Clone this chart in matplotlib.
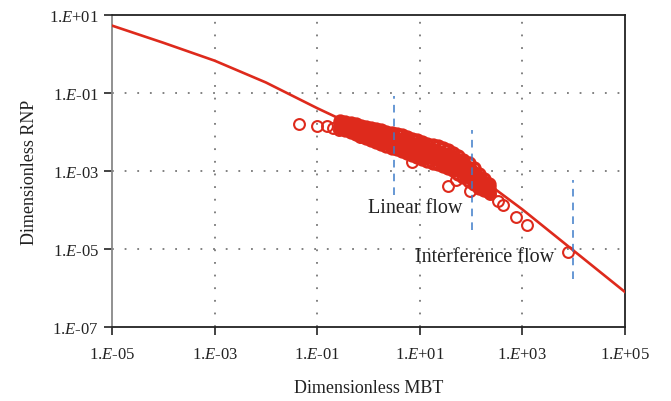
import numpy as np
import matplotlib
matplotlib.use("Agg")
import matplotlib.pyplot as plt

# Type curve (log10 of dimensionless MBT / RNP)
curve_log_mbt = [-5, -4, -3, -2, -1, 0, 0.5, 1, 1.5, 2, 3, 4, 5]
curve_log_rnp = [0.74, 0.30, -0.16, -0.72, -1.38, -2.0, -2.22, -2.45, -2.66, -3.0, -3.98, -5.04, -6.1]

# Production data: isolated points
pts_log_mbt = [-1.36, -1.00, -0.81, -0.69, -0.58, -0.44, -0.17, 0.34, 0.85, 1.55, 1.71,
               1.98, 2.37, 2.52, 2.62, 2.88, 3.09, 3.89]
pts_log_rnp = [-1.78, -1.83, -1.85, -1.88, -1.93, -1.84, -2.11, -2.24, -2.75, -3.37, -3.22,
               -3.50, -3.58, -3.76, -3.86, -4.17, -4.37, -5.07]

# Production data: dense cloud, grouped by log10(MBT)
cloud_log_mbt = [-0.55, -0.50, -0.45, -0.40, -0.35, -0.30, -0.25, -0.20, -0.15, -0.10,
                 -0.05, 0.00, 0.05, 0.10, 0.15, 0.20, 0.25, 0.30, 0.35, 0.40,
                 0.45, 0.50, 0.55, 0.60, 0.65, 0.70, 0.75, 0.80, 0.85, 0.90,
                 0.95, 1.00, 1.05, 1.10, 1.15, 1.20, 1.25, 1.30, 1.35, 1.40,
                 1.45, 1.50, 1.55, 1.60, 1.65, 1.70, 1.75, 1.80, 1.85, 1.90,
                 1.95, 2.00, 2.05, 2.10, 2.15, 2.20, 2.25, 2.30, 2.35]
cloud_log_rnp = [
    [-1.70, -1.77, -1.83, -1.90],
    [-1.77, -1.82, -1.87],
    [-1.73, -1.80, -1.88, -1.95],
    [-1.80, -1.86, -1.92],
    [-1.76, -1.84, -1.92, -2.00],
    [-1.84, -1.90, -1.96],
    [-1.79, -1.88, -1.96, -2.05],
    [-1.87, -1.94, -2.01],
    [-1.83, -1.92, -2.00, -2.09],
    [-1.91, -1.98, -2.05],
    [-1.86, -1.95, -2.05, -2.14],
    [-1.95, -2.02, -2.09],
    [-1.89, -1.99, -2.09, -2.19],
    [-1.98, -2.06, -2.14],
    [-1.92, -2.03, -2.13, -2.24],
    [-2.02, -2.10, -2.18],
    [-1.95, -2.06, -2.18, -2.29],
    [-2.05, -2.14, -2.23],
    [-1.98, -2.10, -2.22, -2.34],
    [-2.09, -2.18, -2.27],
    [-2.01, -2.14, -2.26, -2.39],
    [-2.12, -2.22, -2.32],
    [-2.04, -2.17, -2.31, -2.44],
    [-2.16, -2.26, -2.36],
    [-2.08, -2.21, -2.35, -2.48],
    [-2.20, -2.30, -2.40],
    [-2.11, -2.25, -2.39, -2.53],
    [-2.24, -2.35, -2.45],
    [-2.16, -2.30, -2.44, -2.58],
    [-2.29, -2.40, -2.50],
    [-2.20, -2.35, -2.49, -2.64],
    [-2.33, -2.44, -2.55],
    [-2.24, -2.39, -2.53, -2.68],
    [-2.38, -2.49, -2.60],
    [-2.29, -2.44, -2.58, -2.73],
    [-2.42, -2.53, -2.64],
    [-2.32, -2.47, -2.63, -2.78],
    [-2.46, -2.57, -2.69],
    [-2.36, -2.51, -2.67, -2.82],
    [-2.50, -2.62, -2.73],
    [-2.41, -2.56, -2.72, -2.87],
    [-2.55, -2.67, -2.78],
    [-2.46, -2.61, -2.77, -2.92],
    [-2.61, -2.72, -2.84],
    [-2.52, -2.67, -2.83, -2.98],
    [-2.68, -2.80, -2.91],
    [-2.61, -2.76, -2.92, -3.07],
    [-2.77, -2.88, -2.99],
    [-2.70, -2.85, -2.99, -3.14],
    [-2.86, -2.97, -3.08],
    [-2.80, -2.95, -3.09, -3.24],
    [-2.97, -3.07, -3.18],
    [-2.92, -3.05, -3.19, -3.32],
    [-3.09, -3.18, -3.28],
    [-3.06, -3.18, -3.30, -3.42],
    [-3.22, -3.30, -3.38],
    [-3.21, -3.30, -3.40, -3.49],
    [-3.34, -3.40, -3.46],
    [-3.34, -3.41, -3.47, -3.54],
]

# Flow-regime markers: (log10 MBT, log10 RNP bottom, log10 RNP top)
regime_log_mbt = [0.5, 2.02, 3.99]
regime_log_bottom = [-3.6, -4.5, -5.76]
regime_log_top = [-1.08, -1.93, -3.22]

x_ticks = [1e-5, 1e-3, 1e-1, 1e1, 1e3, 1e5]
x_tick_labels = ["1.$\\mathit{E}$-05", "1.$\\mathit{E}$-03", "1.$\\mathit{E}$-01",
                 "1.$\\mathit{E}$+01", "1.$\\mathit{E}$+03", "1.$\\mathit{E}$+05"]
y_ticks = [1e-7, 1e-5, 1e-3, 1e-1, 1e1]
y_tick_labels = ["1.$\\mathit{E}$-07", "1.$\\mathit{E}$-05", "1.$\\mathit{E}$-03",
                 "1.$\\mathit{E}$-01", "1.$\\mathit{E}$+01"]

plt.rcParams["font.family"] = ["Liberation Serif", "DejaVu Serif"]
plt.rcParams["mathtext.fontset"] = "custom"
plt.rcParams["mathtext.rm"] = "Liberation Serif"
plt.rcParams["mathtext.it"] = "Liberation Serif:italic"

red = "#de2a1c"
blue = "#3d7cc9"

fig = plt.figure(figsize=(6.71, 4.02), dpi=100)
ax = fig.add_axes([0.1669, 0.184, 0.7645, 0.775])

ax.set_xscale("log")
ax.set_yscale("log")
ax.set_xlim(1e-5, 1e5)
ax.set_ylim(1e-7, 1e1)

ax.plot(10 ** np.array(curve_log_mbt), 10 ** np.array(curve_log_rnp),
        color=red, lw=1.9, zorder=3)

cx, cy = [], []
for xv, ys in zip(cloud_log_mbt, cloud_log_rnp):
    for yv in ys:
        cx.append(xv)
        cy.append(yv)
ax.plot(10 ** np.array(cx), 10 ** np.array(cy), linestyle="none", marker="o",
        markersize=8, markerfacecolor="none", markeredgecolor=red,
        markeredgewidth=2.3, zorder=4)
ax.plot(10 ** np.array(pts_log_mbt), 10 ** np.array(pts_log_rnp), linestyle="none",
        marker="o", markersize=7.8, markerfacecolor="none", markeredgecolor=red,
        markeredgewidth=1.5, zorder=4)

for xv, b, t in zip(regime_log_mbt, regime_log_bottom, regime_log_top):
    ax.plot([10 ** xv, 10 ** xv], [10 ** b, 10 ** t], color=blue, lw=1.1,
            dashes=(5, 4), zorder=5)

ax.text(10 ** -0.01, 10 ** -4.04, "Linear flow", fontsize=14.5, ha="left", va="baseline",
        color="#222222", zorder=6)
ax.text(10 ** 0.906, 10 ** -5.30, "Interference flow", fontsize=14.5, ha="left",
        va="baseline", color="#222222", zorder=6)

ax.set_xticks(x_ticks)
ax.set_xticklabels(x_tick_labels)
ax.set_yticks(y_ticks)
ax.set_yticklabels(y_tick_labels)
ax.minorticks_off()
ax.tick_params(axis="both", which="major", labelsize=12, direction="out",
               length=6, width=1.2, color="#222222", labelcolor="#222222")
ax.tick_params(axis="x", pad=8)

for xv in x_ticks[1:-1]:
    ax.axvline(xv, color="#777777", lw=1.3, linestyle=(0, (1, 6)), zorder=1)
for yv in y_ticks[1:-1]:
    ax.axhline(yv, color="#777777", lw=1.3, linestyle=(0, (1, 6)), zorder=1)

for side in ["top", "right", "bottom"]:
    ax.spines[side].set_color("#222222")
    ax.spines[side].set_linewidth(1.3)
ax.spines["left"].set_color("#888888")
ax.spines["left"].set_linewidth(1.3)

ax.set_xlabel("Dimensionless MBT", fontsize=13, color="#222222", labelpad=12)
ax.set_ylabel("Dimensionless RNP", fontsize=13, color="#222222", labelpad=8)

fig.savefig("out.png", dpi=100)
